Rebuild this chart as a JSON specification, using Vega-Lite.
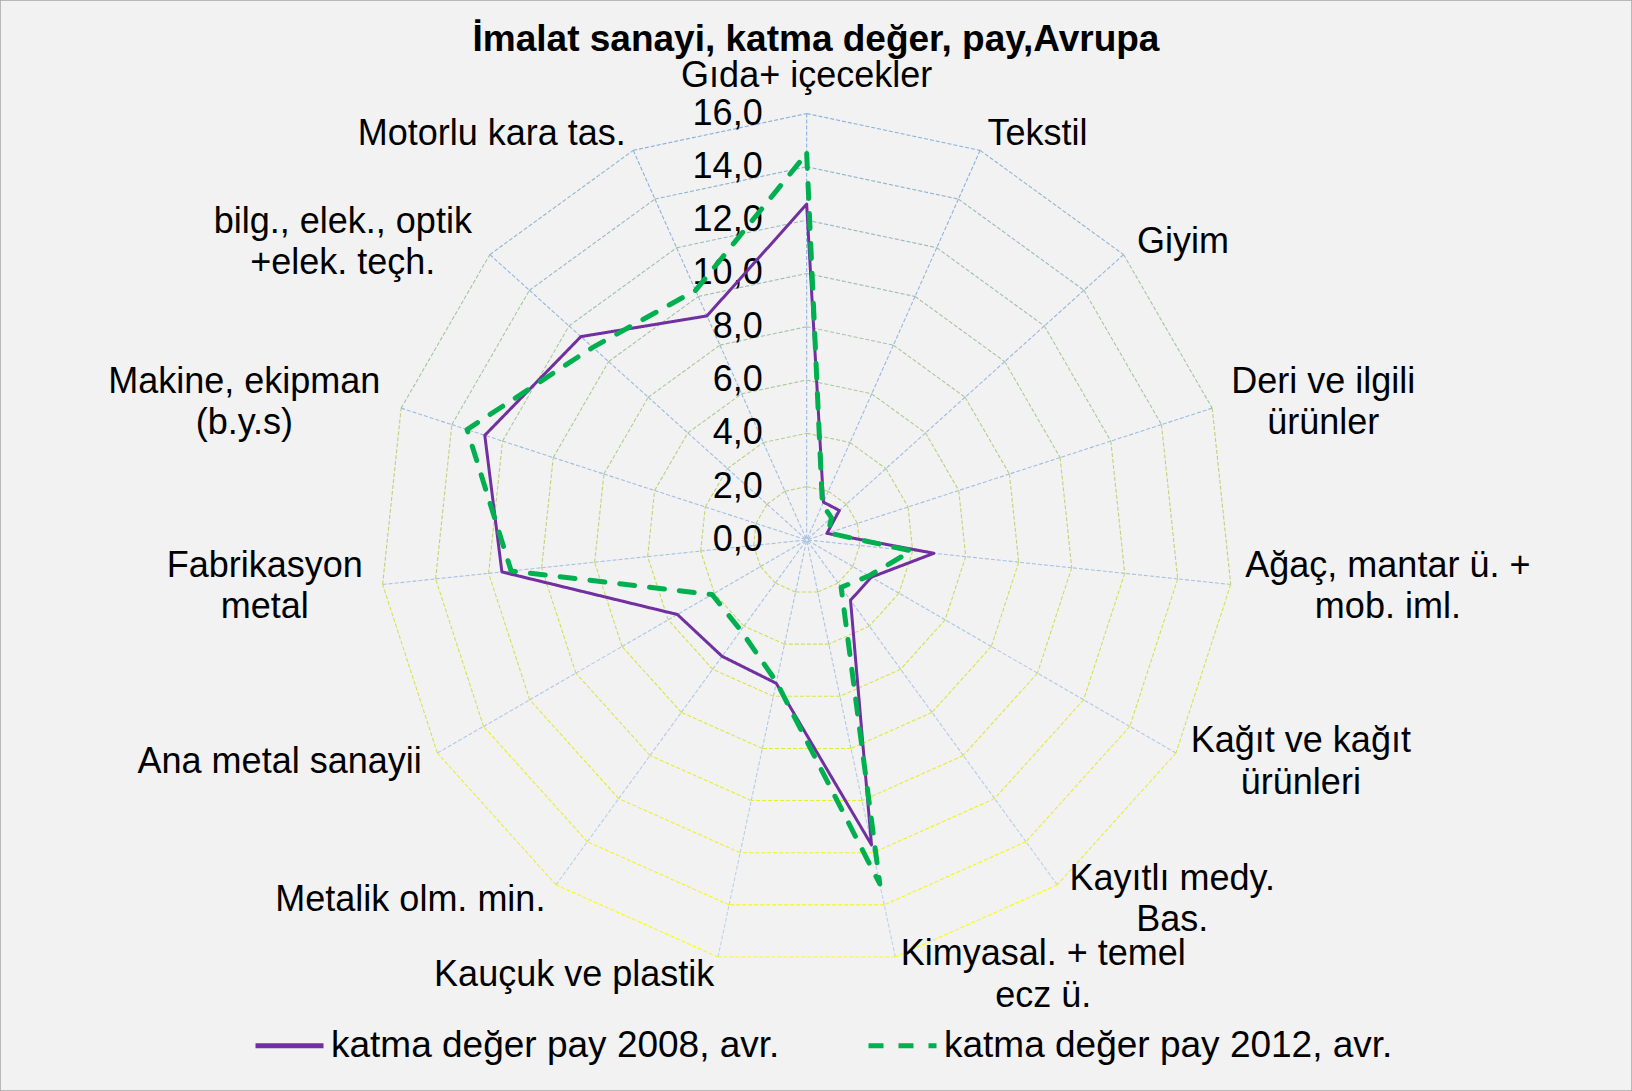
{
  "$schema": "https://vega.github.io/schema/vega-lite/v6.json",
  "width": 1632,
  "height": 1091,
  "autosize": {"type": "none"},
  "padding": 0,
  "background": "#FFFFFF",
  "config": {
    "font": "Liberation Sans",
    "view": {"fill": "#F2F2F2", "stroke": "#A6A6A6", "strokeWidth": 1.5}
  },
  "title": {
    "text": "İmalat sanayi, katma değer, pay,Avrupa",
    "anchor": "middle",
    "frame": "group",
    "fontSize": 37,
    "fontWeight": "bold",
    "font": "Liberation Sans",
    "color": "#000000",
    "offset": -88,
    "baseline": "alphabetic"
  },
  "datasets": {
    "series": [
      {"idx": 0, "cat": "Gıda+ içecekler", "label": "Gıda+ içecekler", "y2008": 12.6, "y2012": 14.5},
      {"idx": 1, "cat": "Tekstil", "label": "Tekstil", "y2008": 1.55, "y2012": 1.45},
      {"idx": 2, "cat": "Giyim", "label": "Giyim", "y2008": 1.65, "y2012": 1.25},
      {"idx": 3, "cat": "Deri ve ilgili ürünler", "label": "Deri ve ilgili\nürünler", "y2008": 0.8, "y2012": 0.85},
      {"idx": 4, "cat": "Ağaç, mantar ü. + mob. iml.", "label": "Ağaç, mantar ü. +\nmob. iml.", "y2008": 4.8, "y2012": 3.95},
      {"idx": 5, "cat": "Kağıt ve kağıt ürünleri", "label": "Kağıt ve kağıt\nürünleri", "y2008": 2.8, "y2012": 2.7},
      {"idx": 6, "cat": "Kayıtlı medy. Bas.", "label": "Kayıtlı medy.\nBas.", "y2008": 2.8, "y2012": 2.2},
      {"idx": 7, "cat": "Kimyasal. + temel ecz ü.", "label": "Kimyasal. + temel\necz ü.", "y2008": 11.7, "y2012": 13.2},
      {"idx": 8, "cat": "Kauçuk ve plastik", "label": "Kauçuk ve plastik", "y2008": 5.5, "y2012": 5.45},
      {"idx": 9, "cat": "Metalik olm. min.", "label": "Metalik olm. min.", "y2008": 5.4, "y2012": 4.2},
      {"idx": 10, "cat": "Ana metal sanayii", "label": "Ana metal sanayii", "y2008": 5.6, "y2012": 4.1},
      {"idx": 11, "cat": "Fabrikasyon metal", "label": "Fabrikasyon\nmetal", "y2008": 11.5, "y2012": 11.15},
      {"idx": 12, "cat": "Makine, ekipman (b.y.s)", "label": "Makine, ekipman\n(b.y.s)", "y2008": 12.7, "y2012": 13.4},
      {"idx": 13, "cat": "bilg., elek., optik +elek. teçh.", "label": "bilg., elek., optik\n+elek. teçh.", "y2008": 11.4, "y2012": 10.8},
      {"idx": 14, "cat": "Motorlu kara tas.", "label": "Motorlu kara tas.", "y2008": 9.2, "y2012": 10.25},
      {"idx": 15, "cat": "Gıda+ içecekler", "label": "", "y2008": 12.6, "y2012": 14.5}
    ],
    "grid": [
      {"level": 2, "k": [0,1,2,3,4,5,6,7,8,9,10,11,12,13,14]},
      {"level": 4, "k": [0,1,2,3,4,5,6,7,8,9,10,11,12,13,14]},
      {"level": 6, "k": [0,1,2,3,4,5,6,7,8,9,10,11,12,13,14]},
      {"level": 8, "k": [0,1,2,3,4,5,6,7,8,9,10,11,12,13,14]},
      {"level": 10, "k": [0,1,2,3,4,5,6,7,8,9,10,11,12,13,14]},
      {"level": 12, "k": [0,1,2,3,4,5,6,7,8,9,10,11,12,13,14]},
      {"level": 14, "k": [0,1,2,3,4,5,6,7,8,9,10,11,12,13,14]},
      {"level": 16, "k": [0,1,2,3,4,5,6,7,8,9,10,11,12,13,14]}
    ],
    "ticks": [
      {"level": 0}, {"level": 2}, {"level": 4}, {"level": 6}, {"level": 8},
      {"level": 10}, {"level": 12}, {"level": 14}, {"level": 16}
    ]
  },
  "resolve": {"scale": {"stroke": "independent"}},
  "layer": [
    {
      "data": {"name": "grid"},
      "transform": [
        {"flatten": ["k"]},
        {"calculate": "datum.k*2*PI/15", "as": "a1"},
        {"calculate": "datum.level*sin(datum.a1)", "as": "px"},
        {"calculate": "datum.level*cos(datum.a1)", "as": "py"},
        {"calculate": "(datum.level-2)*sin(datum.a1)", "as": "px2"},
        {"calculate": "(datum.level-2)*cos(datum.a1)", "as": "py2"},
        {"calculate": "(datum.py+datum.py2)/2", "as": "my"}
      ],
      "mark": {"type": "rule", "strokeDash": [4, 2], "strokeWidth": 1.1},
      "encoding": {
        "x": {"field": "px", "type": "quantitative", "scale": {"domain": [-30.27, 30.97], "nice": false, "zero": false}, "axis": null},
        "y": {"field": "py", "type": "quantitative", "scale": {"domain": [-20.68, 20.26], "nice": false, "zero": false}, "axis": null},
        "x2": {"field": "px2"},
        "y2": {"field": "py2"},
        "stroke": {"field": "my", "type": "quantitative", "scale": {"domain": [-16, 16], "range": ["#C4D3E8", "#86AEE0"], "interpolate": "rgb"}, "legend": null}
      }
    },
    {
      "data": {"name": "grid"},
      "transform": [
        {"flatten": ["k"]},
        {"calculate": "datum.k*2*PI/15", "as": "a1"},
        {"calculate": "(datum.k+1)*2*PI/15", "as": "a2"},
        {"calculate": "datum.level*sin(datum.a1)", "as": "px"},
        {"calculate": "datum.level*cos(datum.a1)", "as": "py"},
        {"calculate": "datum.level*sin(datum.a2)", "as": "px2"},
        {"calculate": "datum.level*cos(datum.a2)", "as": "py2"},
        {"calculate": "(datum.py+datum.py2)/2", "as": "ringy"}
      ],
      "mark": {"type": "rule", "strokeDash": [4, 2], "strokeWidth": 1.1},
      "encoding": {
        "x": {"field": "px", "type": "quantitative"},
        "y": {"field": "py", "type": "quantitative"},
        "x2": {"field": "px2"},
        "y2": {"field": "py2"},
        "stroke": {"field": "ringy", "type": "quantitative", "scale": {"domain": [-16, 16], "range": ["#FFFF00", "#86AEE0"], "interpolate": "rgb"}, "legend": null}
      }
    },
    {
      "data": {"name": "ticks"},
      "transform": [
        {"calculate": "replace(format(datum.level, '.1f'), '.', ',')", "as": "txt"}
      ],
      "mark": {"type": "text", "align": "right", "baseline": "middle", "dx": -44, "fontSize": 36, "color": "#000000"},
      "encoding": {
        "x": {"datum": 0, "type": "quantitative"},
        "y": {"field": "level", "type": "quantitative"},
        "text": {"field": "txt"}
      }
    },
    {
      "data": {"name": "series"},
      "transform": [
        {"fold": ["y2008", "y2012"], "as": ["key", "v"]},
        {"calculate": "datum.key == 'y2008' ? 'katma değer pay 2008, avr.' : 'katma değer pay 2012, avr.'", "as": "seri"},
        {"calculate": "datum.idx*2*PI/15", "as": "a"},
        {"calculate": "datum.v*sin(datum.a)", "as": "px"},
        {"calculate": "datum.v*cos(datum.a)", "as": "py"}
      ],
      "mark": {"type": "line", "strokeCap": "round", "strokeJoin": "round"},
      "encoding": {
        "x": {"field": "px", "type": "quantitative"},
        "y": {"field": "py", "type": "quantitative"},
        "order": {"field": "idx", "type": "quantitative"},
        "color": {
          "field": "seri",
          "type": "nominal",
          "scale": {"domain": ["katma değer pay 2008, avr.", "katma değer pay 2012, avr."], "range": ["#7030A0", "#00B050"]},
          "legend": {
            "title": null,
            "orient": "none",
            "direction": "horizontal",
            "legendX": 253,
            "legendY": 1009,
            "padding": 0,
            "labelFontSize": 37,
            "labelFont": "Liberation Sans",
            "labelColor": "#000000",
            "labelLimit": 1000,
            "labelOffset": 5,
            "columnPadding": 78,
            "symbolType": "stroke",
            "symbolSize": 4624,
            "symbolStrokeWidth": 5
          }
        },
        "strokeDash": {
          "field": "seri",
          "type": "nominal",
          "scale": {"domain": ["katma değer pay 2008, avr.", "katma değer pay 2012, avr."], "range": [[1, 0], [15, 15]]},
          "legend": {"title": null}
        },
        "strokeWidth": {"condition": {"test": "datum.key == 'y2012'", "value": 5}, "value": 3}
      }
    },
    {
      "data": {"name": "series"},
      "transform": [
        {"filter": "datum.idx >= 1 && datum.idx <= 7 && indexof(datum.label, '\\n') < 0"},
        {"calculate": "datum.idx*2*PI/15", "as": "a"},
        {"calculate": "16.68*sin(datum.a)", "as": "px"},
        {"calculate": "16.68*cos(datum.a)", "as": "py"}
      ],
      "mark": {"type": "text", "align": "left", "baseline": "middle", "fontSize": 36, "color": "#000000"},
      "encoding": {
        "x": {"field": "px", "type": "quantitative"},
        "y": {"field": "py", "type": "quantitative"},
        "text": {"field": "label"}
      }
    },
    {
      "data": {"name": "series"},
      "transform": [
        {"filter": "datum.idx >= 8 && datum.idx <= 14 && indexof(datum.label, '\\n') < 0"},
        {"calculate": "datum.idx*2*PI/15", "as": "a"},
        {"calculate": "16.68*sin(datum.a)", "as": "px"},
        {"calculate": "16.68*cos(datum.a)", "as": "py"}
      ],
      "mark": {"type": "text", "align": "right", "baseline": "middle", "fontSize": 36, "color": "#000000"},
      "encoding": {
        "x": {"field": "px", "type": "quantitative"},
        "y": {"field": "py", "type": "quantitative"},
        "text": {"field": "label"}
      }
    },
    {
      "data": {"name": "series"},
      "transform": [
        {"filter": "datum.idx <= 14 && indexof(datum.label, '\\n') >= 0"},
        {"calculate": "datum.idx*2*PI/15", "as": "a"},
        {"calculate": "split(datum.label, '\\n')[0]", "as": "l1"},
        {"calculate": "split(datum.label, '\\n')[1]", "as": "l2"},
        {"calculate": "length(replace(datum.l1, regexp('[^ilıtfjr.,() ]', 'g'), ''))", "as": "n1"},
        {"calculate": "length(replace(datum.l2, regexp('[^ilıtfjr.,() ]', 'g'), ''))", "as": "n2"},
        {"calculate": "length(replace(datum.l1, regexp('[^mMwW]', 'g'), ''))", "as": "m1"},
        {"calculate": "length(replace(datum.l2, regexp('[^mMwW]', 'g'), ''))", "as": "m2"},
        {"calculate": "(length(datum.l1) - datum.n1) * 0.556 + datum.n1 * 0.27 + datum.m1 * 0.28", "as": "w1"},
        {"calculate": "(length(datum.l2) - datum.n2) * 0.556 + datum.n2 * 0.27 + datum.m2 * 0.28", "as": "w2"},
        {"calculate": "max(datum.w1, datum.w2) * 36 / 26.65", "as": "W"},
        {"calculate": "16.68*sin(datum.a) + (sin(datum.a) > 0 ? 1 : -1) * datum.W / 2", "as": "px"},
        {"calculate": "16.68*cos(datum.a)", "as": "py"}
      ],
      "mark": {"type": "text", "align": "center", "baseline": "middle", "dy": -20.85, "fontSize": 36, "lineHeight": 41.7, "lineBreak": "\n", "color": "#000000"},
      "encoding": {
        "x": {"field": "px", "type": "quantitative"},
        "y": {"field": "py", "type": "quantitative"},
        "text": {"field": "label"}
      }
    },
    {
      "data": {"name": "series"},
      "transform": [
        {"filter": "datum.idx == 0"},
        {"calculate": "0", "as": "px"},
        {"calculate": "16.68", "as": "py"}
      ],
      "mark": {"type": "text", "align": "center", "baseline": "bottom", "fontSize": 36, "color": "#000000"},
      "encoding": {
        "x": {"field": "px", "type": "quantitative"},
        "y": {"field": "py", "type": "quantitative"},
        "text": {"field": "label"}
      }
    }
  ]
}
